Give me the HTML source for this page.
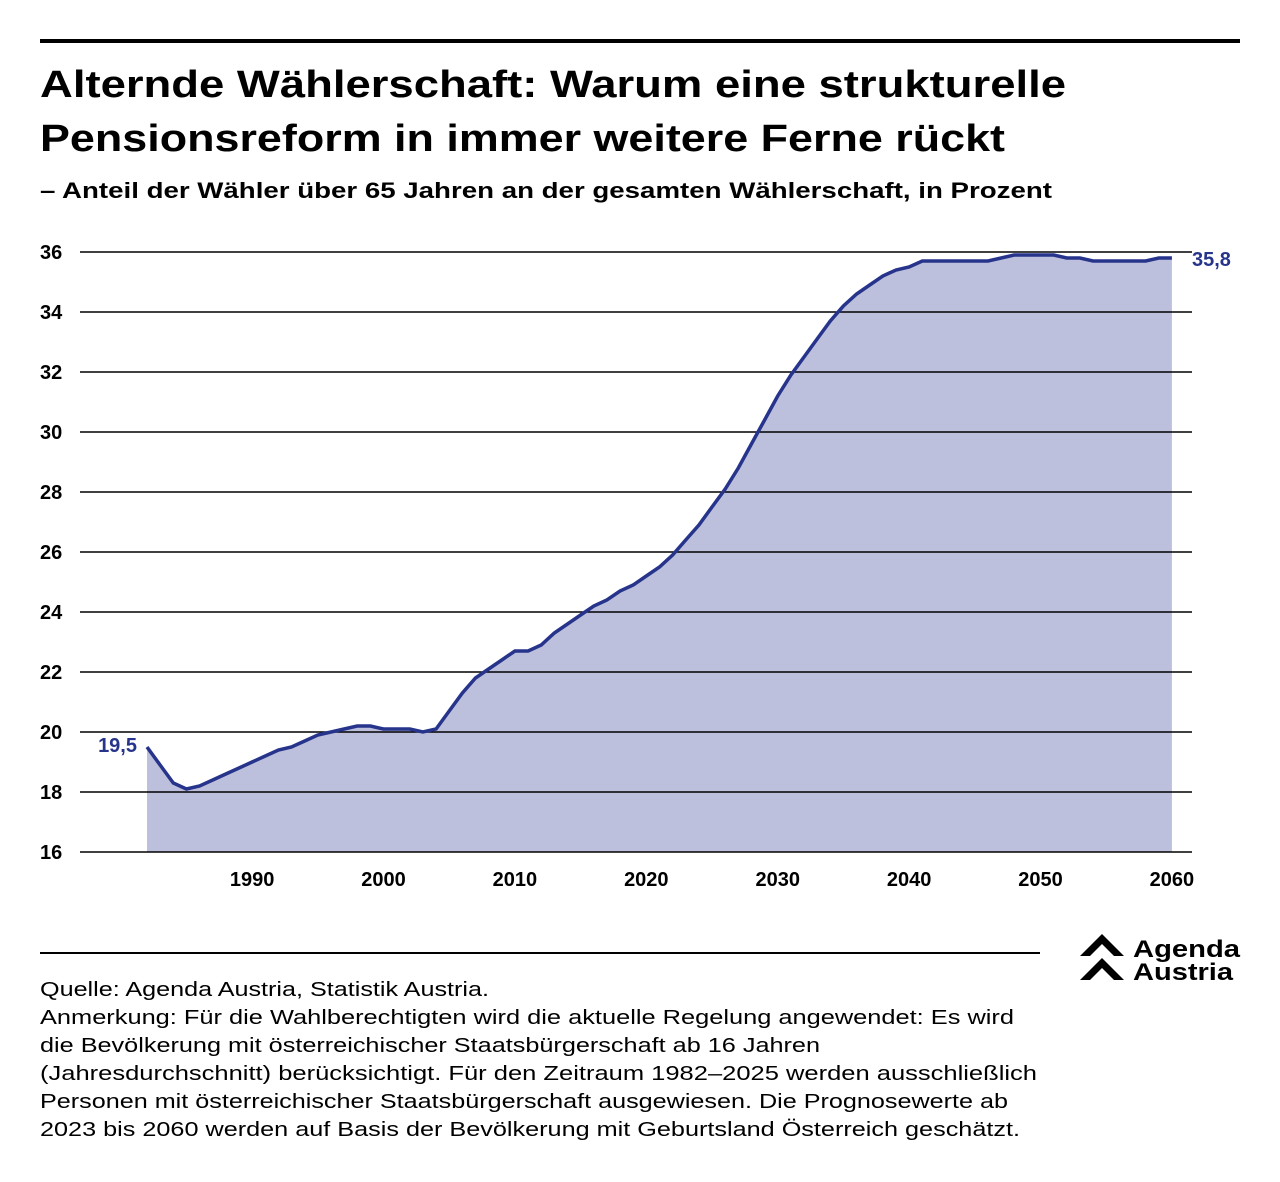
<!DOCTYPE html>
<html><head><meta charset="utf-8"><style>
body{margin:0;background:#fff;font-family:"Liberation Sans",sans-serif;color:#000}
.wrap{position:relative;width:1280px;height:1182px}
.top{position:absolute;left:40px;top:39px;width:1200px;height:4px;background:#000}
.hr{position:absolute;left:40px;top:952px;width:1000px;height:1.5px;background:#000}
</style></head><body><div class="wrap">
<div class="top"></div>
<svg width="1280" height="1182" style="position:absolute;left:0;top:0" font-family="Liberation Sans">
<text x="40" y="97" font-size="38" font-weight="bold" textLength="1026" lengthAdjust="spacingAndGlyphs">Alternde Wählerschaft: Warum eine strukturelle</text>
<text x="40" y="151" font-size="38" font-weight="bold" textLength="965" lengthAdjust="spacingAndGlyphs">Pensionsreform in immer weitere Ferne rückt</text>
<text x="40" y="198" font-size="22" font-weight="bold" textLength="1012" lengthAdjust="spacingAndGlyphs">– Anteil der Wähler über 65 Jahren an der gesamten Wählerschaft, in Prozent</text>
<g font-size="20">
<text x="40" y="996" textLength="449" lengthAdjust="spacingAndGlyphs">Quelle: Agenda Austria, Statistik Austria.</text>
<text x="40" y="1024" textLength="974" lengthAdjust="spacingAndGlyphs">Anmerkung: Für die Wahlberechtigten wird die aktuelle Regelung angewendet: Es wird</text>
<text x="40" y="1052" textLength="780" lengthAdjust="spacingAndGlyphs">die Bevölkerung mit österreichischer Staatsbürgerschaft ab 16 Jahren</text>
<text x="40" y="1080" textLength="997" lengthAdjust="spacingAndGlyphs">(Jahresdurchschnitt) berücksichtigt. Für den Zeitraum 1982–2025 werden ausschließlich</text>
<text x="40" y="1108" textLength="968" lengthAdjust="spacingAndGlyphs">Personen mit österreichischer Staatsbürgerschaft ausgewiesen. Die Prognosewerte ab</text>
<text x="40" y="1136" textLength="980" lengthAdjust="spacingAndGlyphs">2023 bis 2060 werden auf Basis der Bevölkerung mit Geburtsland Österreich geschätzt.</text>
</g>
<g id="c"></g>
<path d="M1080 956 L1102 934 L1124 956 L1114 956 L1102 944 L1090 956Z M1080 980 L1102 958 L1124 980 L1114 980 L1102 968 L1090 980Z" fill="#000"/>
<text x="1133" y="957" font-size="24" font-weight="bold" textLength="107" lengthAdjust="spacingAndGlyphs">Agenda</text>
<text x="1133" y="980" font-size="24" font-weight="bold" textLength="100" lengthAdjust="spacingAndGlyphs">Austria</text>
</svg>
<div class="hr"></div>
</div>
<script>
var d=[19.5,18.9,18.3,18.1,18.2,18.4,18.6,18.8,19.0,19.2,19.4,19.5,19.7,19.9,20.0,20.1,20.2,20.2,20.1,20.1,20.1,20.0,20.1,20.7,21.3,21.8,22.1,22.4,22.7,22.7,22.9,23.3,23.6,23.9,24.2,24.4,24.7,24.9,25.2,25.5,25.9,26.4,26.9,27.5,28.1,28.8,29.6,30.4,31.2,31.9,32.5,33.1,33.7,34.2,34.6,34.9,35.2,35.4,35.5,35.7,35.7,35.7,35.7,35.7,35.7,35.8,35.9,35.9,35.9,35.9,35.8,35.8,35.7,35.7,35.7,35.7,35.7,35.8,35.8];
function X(y){return 147+(y-1982)*13.14}function Y(v){return 852-(v-16)*30}
var s='';
var pts=d.map(function(v,i){return X(1982+i).toFixed(1)+','+Y(v).toFixed(1)}).join(' ');
s+='<polygon points="'+X(1982)+',852 '+pts+' '+X(2060)+',852" fill="#bdc0dc"/>';
for(var v=16;v<=36;v+=2){s+='<line x1="80" x2="1192" y1="'+Y(v)+'" y2="'+Y(v)+'" stroke="#000" stroke-width="1.5"/>';
s+='<text x="40" y="'+(Y(v)+7)+'" font-size="20" font-weight="bold">'+v+'</text>';}
for(var y=1990;y<=2060;y+=10)s+='<text x="'+X(y)+'" y="886" text-anchor="middle" font-size="20" font-weight="bold">'+y+'</text>';
s+='<polyline points="'+pts+'" fill="none" stroke="#27348b" stroke-width="3.5"/>';
s+='<text x="137" y="752" text-anchor="end" font-size="20" font-weight="bold" fill="#27348b">19,5</text>';
s+='<text x="1192" y="266" font-size="20" font-weight="bold" fill="#27348b">35,8</text>';
document.getElementById('c').innerHTML=s;
</script></body></html>
